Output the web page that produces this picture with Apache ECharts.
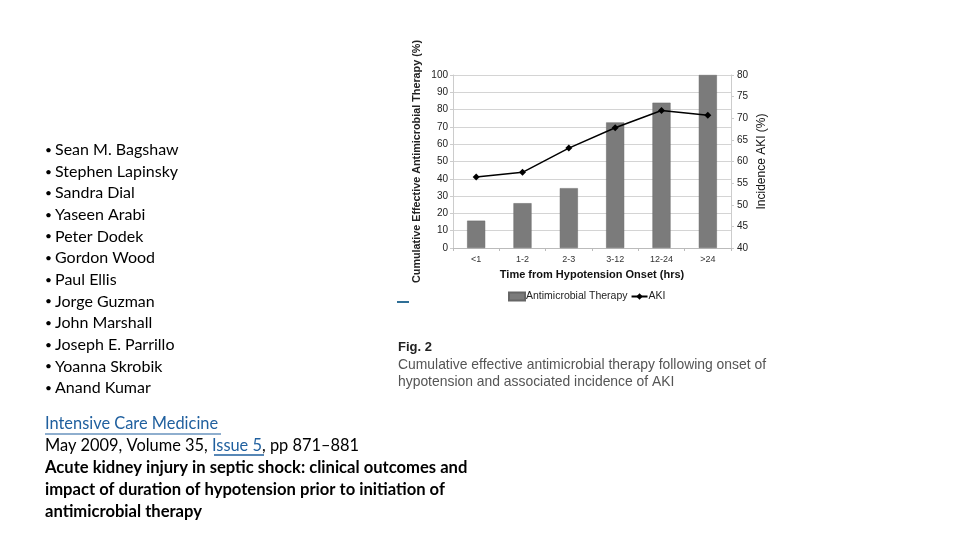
<!DOCTYPE html>
<html>
<head>
<meta charset="utf-8">
<script src="https://cdn.jsdelivr.net/npm/echarts@6/dist/echarts.min.js"></script>
<style>html,body{margin:0;padding:0;background:#fff;}#c{width:960px;height:540px;}</style>
</head>
<body>
<div id="c"></div>
<script>
const categories = ['<1', '1-2', '2-3', '3-12', '12-24', '>24'];
const therapyValues = [15.8, 25.9, 34.6, 72.6, 84.0, 100];
const akiValues = [56.4, 57.5, 63.1, 67.8, 71.8, 70.7];
const leftTicks = { min: 0, max: 100, interval: 10 };
const rightTicks = { min: 40, max: 80, interval: 5 };
const authors = ['Sean M. Bagshaw', 'Stephen Lapinsky', 'Sandra Dial', 'Yaseen Arabi', 'Peter Dodek', 'Gordon Wood', 'Paul Ellis', 'Jorge Guzman', 'John Marshall', 'Joseph E. Parrillo', 'Yoanna Skrobik', 'Anand Kumar'];

const chart = echarts.init(document.getElementById('c'));
const CF = 'Lato, "Open Sans", sans-serif';
const AF = '"Liberation Sans", Arial, sans-serif';
const graphics = [];
authors.forEach((a, i) => {
  graphics.push({ type: 'text', left: 45, top: 142 + i * 21.65,
    style: { text: '{d|\u2022 }{t|' + a + '}', rich: { d: { font: '12px ' + CF, fill: '#000' }, t: { font: '16px ' + CF, fill: '#000' } } } });
});
graphics.push({ type: 'text', left: 45, top: 416, style: { text: 'Intensive Care Medicine', font: '16.4px ' + CF, fill: '#1f5f9e' } });
graphics.push({ type: 'line', shape: { x1: 45, y1: 434, x2: 221, y2: 434 }, style: { stroke: '#1f5f9e', lineWidth: 1.2 } });
graphics.push({ type: 'text', left: 45, top: 438, style: {
  text: '{a|May 2009, Volume 35, }{b|Issue 5}{a|, pp 871\u2013881}',
  rich: { a: { font: '16.4px ' + CF, fill: '#000' }, b: { font: '16.4px ' + CF, fill: '#1f5f9e' } } } });
graphics.push({ type: 'line', shape: { x1: 214, y1: 455, x2: 264, y2: 455 }, style: { stroke: '#1f5f9e', lineWidth: 1.5 } });
['Acute kidney injury in septic shock: clinical outcomes and', 'impact of duration of hypotension prior to initiation of', 'antimicrobial therapy'].forEach((t, i) => {
  graphics.push({ type: 'text', left: 45, top: 459 + i * 22, style: { text: t, font: 'bold 16.6px ' + CF, fill: '#000' } });
});
graphics.push({ type: 'text', left: 398, top: 341, style: { text: 'Fig. 2', font: 'bold 13px ' + AF, fill: '#222' } });
graphics.push({ type: 'text', left: 398, top: 358, style: { text: 'Cumulative effective antimicrobial therapy following onset of', font: '13.9px ' + AF, fill: '#555' } });
graphics.push({ type: 'text', left: 398, top: 375, style: { text: 'hypotension and associated incidence of AKI', font: '13.9px ' + AF, fill: '#555' } });
graphics.push({ type: 'line', shape: { x1: 397, y1: 302, x2: 409, y2: 302 }, style: { stroke: '#2f6f96', lineWidth: 2 } });

chart.setOption({
  animation: false,
  backgroundColor: '#fff',
  textStyle: { fontFamily: AF },
  grid: { left: 453, right: 229, top: 75, bottom: 292, containLabel: false },
  legend: {
    left: 503, top: 286, itemGap: 3, itemWidth: 16, itemHeight: 8,
    textStyle: { fontSize: 10.5, color: '#222', fontFamily: AF, padding: [0, 0, 0, -4] },
    data: [
      { name: 'Antimicrobial Therapy', icon: 'rect' },
      { name: 'AKI' }
    ]
  },
  xAxis: {
    type: 'category', data: categories,
    name: 'Time from Hypotension Onset (hrs)', nameLocation: 'middle', nameGap: 21,
    nameTextStyle: { fontSize: 11, fontWeight: 'bold', color: '#111' },
    axisLine: { lineStyle: { color: '#bbb' } },
    axisTick: { show: true, lineStyle: { color: '#bbb' }, length: 3 },
    axisLabel: { fontSize: 9, color: '#333', margin: 7 }
  },
  yAxis: [
    {
      type: 'value', min: leftTicks.min, max: leftTicks.max, interval: leftTicks.interval,
      name: 'Cumulative Effective Antimicrobial Therapy (%)', nameLocation: 'middle', nameGap: 30,
      nameTextStyle: { fontSize: 10.8, fontWeight: 'bold', color: '#222' },
      axisLine: { show: true, lineStyle: { color: '#ccc' } },
      axisTick: { show: true, length: 3, lineStyle: { color: '#ccc' } },
      axisLabel: { fontSize: 10, color: '#222', margin: 5 },
      splitLine: { show: true, lineStyle: { color: '#d4d4d4', width: 1 } }
    },
    {
      type: 'value', min: rightTicks.min, max: rightTicks.max, interval: rightTicks.interval,
      position: 'right',
      name: 'Incidence AKI (%)', nameLocation: 'middle', nameGap: 25, nameRotate: 90,
      nameTextStyle: { fontSize: 12, color: '#111' },
      axisLine: { show: true, lineStyle: { color: '#ccc' } },
      axisTick: { show: true, length: 3, lineStyle: { color: '#ccc' } },
      axisLabel: { fontSize: 10, color: '#222', margin: 6 },
      splitLine: { show: false }
    }
  ],
  series: [
    {
      name: 'Antimicrobial Therapy', type: 'bar', data: therapyValues, barWidth: '39%',
      itemStyle: { color: '#7b7b7b', borderColor: '#666', borderWidth: 0.5 }
    },
    {
      name: 'AKI', type: 'line', yAxisIndex: 1, data: akiValues,
      symbol: 'diamond', symbolSize: 7,
      lineStyle: { color: '#000', width: 1.5 }, itemStyle: { color: '#000' }
    }
  ],
  graphic: graphics
});
</script>
</body>
</html>
